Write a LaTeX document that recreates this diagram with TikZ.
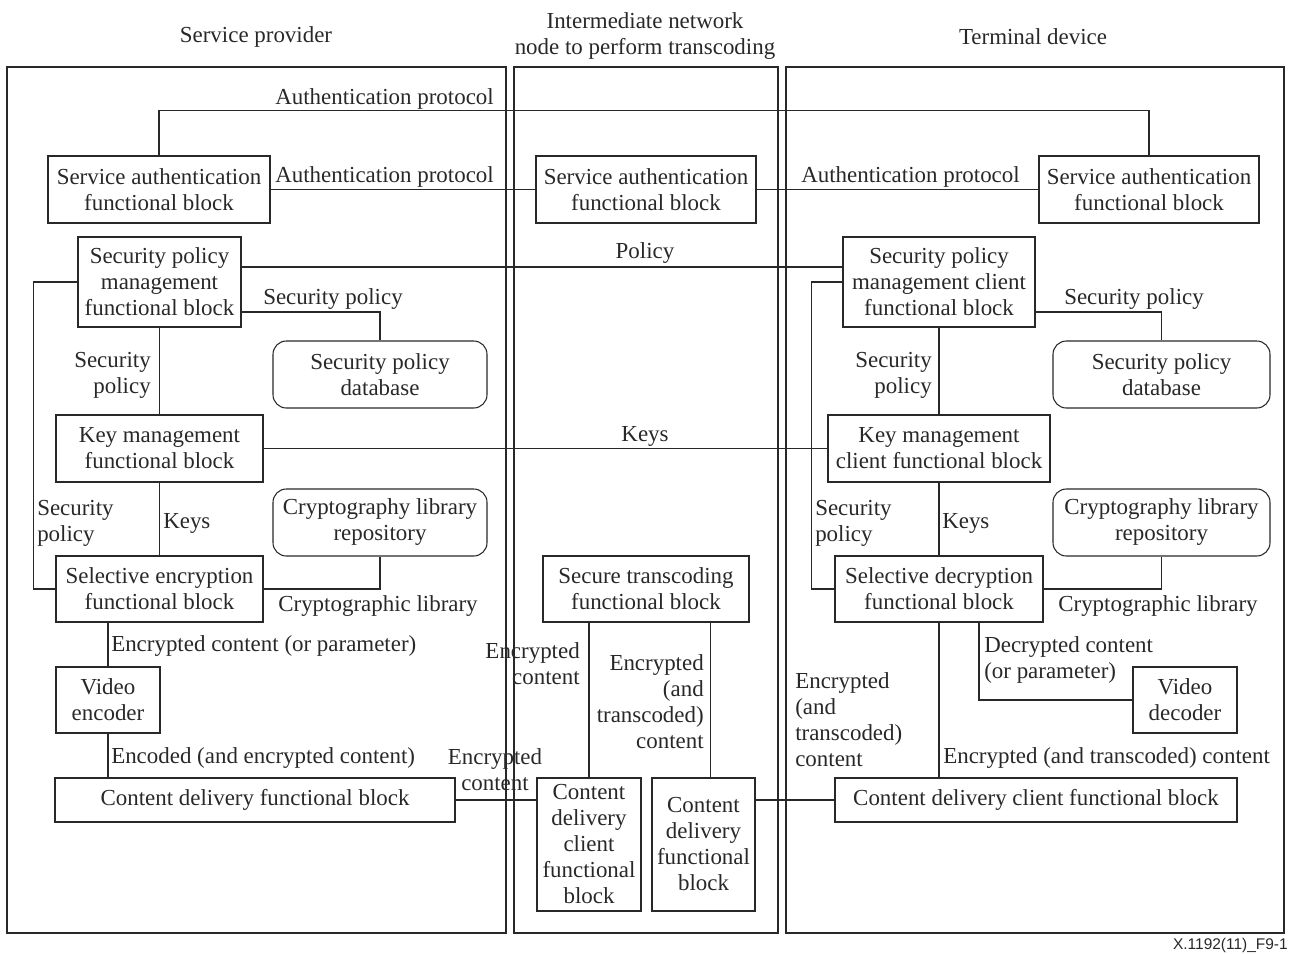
\documentclass[tikz,border=0pt]{standalone}
\usepackage{fontspec}
\setmainfont{Liberation Serif}
\newfontfamily\footfont{Liberation Sans}
\usetikzlibrary{fit}
\definecolor{ink}{RGB}{40,40,40}
\begin{document}
\begin{tikzpicture}[x=0.75pt,y=-0.75pt,
  every node/.style={font=\fontsize{17.2pt}{19.5pt}\selectfont, text=ink},
  blk/.style={draw=ink, line width=0.8pt, align=center, inner sep=0pt},
  rblk/.style={blk, rounded corners=10pt},
  lbl/.style={inner sep=0pt, yshift=-2pt},
  mlbl/.style={inner sep=0pt, yshift=-1.2pt},
  conn/.style={draw=ink, line width=0.8pt},
  panel/.style={draw=ink, line width=0.8pt, inner sep=0pt}]
\useasboundingbox (0,0) rectangle (1291,953);

% panels
\node[panel, fit={(7,67) (506,933)}] (panL) {};
\node[panel, fit={(514,67) (778,933)}] (panM) {};
\node[panel, fit={(786,67) (1284,933)}] (panR) {};

% titles
\node[lbl] (tL) at (256,34) {Service provider};
\node[lbl, align=center] (tM) at (645,33) {Intermediate network\\node to perform transcoding};
\node[lbl] (tR) at (1033,34) {Terminal device};

% blocks
\node[blk, minimum width=166.5pt, minimum height=50.25pt] (SAL) at (159,189.5) {Service authentication\\functional block};
\node[blk, minimum width=165pt, minimum height=50.25pt] (SAM) at (646,189.5) {Service authentication\\functional block};
\node[blk, minimum width=165pt, minimum height=50.25pt] (SAR) at (1149,189.5) {Service authentication\\functional block};
\node[blk, minimum width=122.25pt, minimum height=67.5pt] (SPML) at (159.5,282) {Security policy\\management\\functional block};
\node[blk, minimum width=144pt, minimum height=67.5pt] (SPMR) at (939,282) {Security policy\\management client\\functional block};
\node[rblk, minimum width=160.5pt, minimum height=50.25pt] (SPDL) at (380,374.5) {Security policy\\database};
\node[rblk, minimum width=162.75pt, minimum height=50.25pt] (SPDR) at (1161.5,374.5) {Security policy\\database};
\node[blk, minimum width=155.25pt, minimum height=50.25pt] (KML) at (159.5,448.5) {Key management\\functional block};
\node[blk, minimum width=166.5pt, minimum height=50.25pt] (KMR) at (939,448.5) {Key management\\client functional block};
\node[rblk, minimum width=160.5pt, minimum height=50.25pt] (CLRL) at (380,522.5) {Cryptography library\\repository};
\node[rblk, minimum width=162.75pt, minimum height=50.25pt] (CLRR) at (1161.5,522.5) {Cryptography library\\repository};
\node[blk, minimum width=155.25pt, minimum height=49.5pt] (SEL) at (159.5,589) {Selective encryption\\functional block};
\node[blk, minimum width=156pt, minimum height=49.5pt] (SDR) at (939,589) {Selective decryption\\functional block};
\node[blk, minimum width=154.5pt, minimum height=49.5pt] (STM) at (646,589) {Secure transcoding\\functional block};
\node[blk, minimum width=78pt, minimum height=49.5pt] (VEL) at (108,700) {Video\\encoder};
\node[blk, minimum width=78pt, minimum height=49.5pt] (VDR) at (1185,700) {Video\\decoder};
\node[blk, minimum width=300pt, minimum height=33pt] (CDL) at (255,800) {Content delivery functional block};
\node[blk, minimum width=301.5pt, minimum height=33pt] (CDR) at (1036,800) {Content delivery client functional block};
\node[blk, minimum width=78pt, minimum height=99.75pt] (CDCM) at (589,844.5) {Content\\delivery\\client\\functional\\block};
\node[blk, minimum width=77.25pt, minimum height=99.75pt] (CDFM) at (703.5,844.5) {Content\\delivery\\functional\\block};

% connectors
\draw[conn] (SAL.north) -- ++(0,-45) -| (SAR.north);
\draw[conn] (SAL.east) -- (SAM.west);
\draw[conn] (SAM.east) -- (SAR.west);
\draw[conn] ([yshift=11.25pt]SPML.east) -- ([yshift=11.25pt]SPMR.west);
\draw[conn] ([yshift=-22.5pt]SPML.east) -| (SPDL.north);
\draw[conn] ([yshift=-22.5pt]SPMR.east) -| (SPDR.north);
\draw[conn] (SPML.south) -- (KML.north);
\draw[conn] (SPMR.south) -- (KMR.north);
\draw[conn] (KML.east) -- (KMR.west);
\draw[conn] (KML.south) -- (SEL.north);
\draw[conn] (KMR.south) -- (SDR.north);
\draw[conn] (SPML.west) -- ++(-44,0) |- (SEL.west);
\draw[conn] (SPMR.west) -- ++(-31,0) |- (SDR.west);
\draw[conn] (SEL.east) -| (CLRL.south);
\draw[conn] (SDR.east) -| (CLRR.south);
\draw[conn] (VEL.north) -- (VEL.north |- SEL.south);
\draw[conn] (VEL.south) -- (VEL.south |- CDL.north);
\draw[conn] (CDL.east) -- (CDCM.west |- CDL.east);
\draw[conn] (CDCM.north) -- (CDCM.north |- STM.south);
\draw[conn] ([xshift=5pt]CDFM.north) -- ([xshift=5pt]CDFM.north |- STM.south);
\draw[conn] (CDFM.east |- CDR.west) -- (CDR.west);
\draw[conn] (SDR.south) -- (SDR.south |- CDR.north);
\draw[conn] ([xshift=30pt]SDR.south) |- (VDR.west);

% labels
\node[lbl, anchor=east] (a1) at (494,96) {Authentication protocol};
\node[lbl, anchor=east] (a2) at (494,174) {Authentication protocol};
\node[lbl, anchor=west] (a3) at (801,174) {Authentication protocol};
\node[lbl] (p1) at (645,250) {Policy};
\node[lbl] (sp1) at (333,296) {Security policy};
\node[lbl] (sp2) at (1134,296) {Security policy};
\node[mlbl, anchor=east, align=right] (sp3) at (151,373.5) {Security\\policy};
\node[mlbl, anchor=east, align=right] (sp4) at (932,373.5) {Security\\policy};
\node[lbl] (k1) at (645,434) {Keys};
\node[mlbl, anchor=west, align=left] (sp5) at (37,521.5) {Security\\policy};
\node[mlbl, anchor=west, align=left] (sp6) at (815,521.5) {Security\\policy};
\node[lbl, anchor=west] (k2) at (163,521) {Keys};
\node[lbl, anchor=west] (k3) at (942,521) {Keys};
\node[lbl] (cl1) at (378,603) {Cryptographic library};
\node[lbl] (cl2) at (1158,603) {Cryptographic library};
\node[lbl, anchor=west] (ec1) at (111,643) {Encrypted content (or parameter)};
\node[lbl, anchor=west] (ec2) at (111,755) {Encoded (and encrypted content)};
\node[inner sep=0pt, align=center] (ec3) at (495,770) {Encrypted\\content};
\node[inner sep=0pt, anchor=east, align=right] (ec4) at (580,663.5) {Encrypted\\content};
\node[inner sep=0pt, anchor=east, align=right] (ec5) at (704,701.5) {Encrypted\\(and\\transcoded)\\content};
\node[inner sep=0pt, anchor=west, align=left] (dc1) at (984,659.5) {Decrypted content\\(or parameter)};
\node[inner sep=0pt, anchor=west, align=left] (ec6) at (795,719.5) {Encrypted\\(and\\transcoded)\\content};
\node[lbl, anchor=west] (ec7) at (943,755) {Encrypted (and transcoded) content};
\node[lbl, anchor=east, font=\footfont\fontsize{11.6pt}{13pt}\selectfont] (ft) at (1288,943) {X.1192(11)\_F9-1};
\end{tikzpicture}
\end{document}
